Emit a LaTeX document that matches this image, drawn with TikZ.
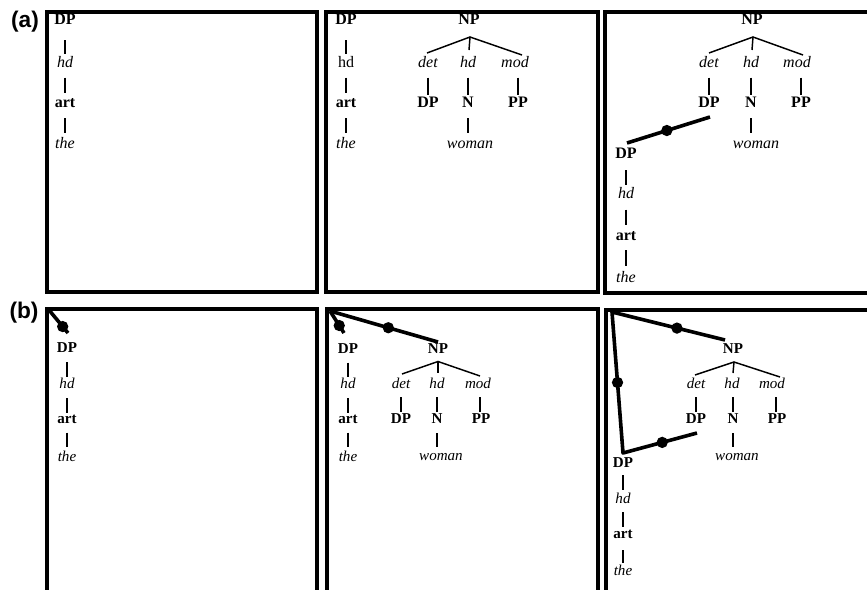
\documentclass[tikz,border=0pt]{standalone}
\usepackage{fontspec}
\setmainfont{Liberation Serif}
\newfontfamily\labfont{Liberation Sans}
\usetikzlibrary{calc}
\newcommand\tlink[4]{\draw[tl] ($(#1.base)+(0,#3)$) -- ($(#2.base)+(0,-#4)$);}
\begin{document}
\begin{tikzpicture}[x=0.75pt,y=-0.75pt,
  ca/.style={anchor=base,inner sep=0pt,font=\fontsize{12}{14}\selectfont\bfseries},
  fa/.style={anchor=base,inner sep=0pt,font=\fontsize{12}{14}\selectfont\itshape},
  ra/.style={anchor=base,inner sep=0pt,font=\fontsize{12}{14}\selectfont},
  cb/.style={anchor=base,inner sep=0pt,font=\fontsize{11.3}{13}\selectfont\bfseries},
  fb/.style={anchor=base,inner sep=0pt,font=\fontsize{11.3}{13}\selectfont\itshape},
  lab/.style={inner sep=0pt,font=\fontsize{17}{20}\selectfont\labfont\bfseries},
  frame/.style={line width=2.4pt},
  tl/.style={line width=1.1pt},
  thk/.style={line width=2.7pt,line join=round},
  dot/.style={circle,fill=black,inner sep=0pt,minimum size=8.5pt}]
\useasboundingbox (0,0) rectangle (867,589);
\clip (0,0) rectangle (867,589);
% labels
\node[lab] (la) at (25,22) {(a)};
\node[lab] (lb) at (24,313) {(b)};
% frames
\draw[frame] (47,12) rectangle (317,292);
\draw[frame] (326,12) rectangle (598,292);
\draw[frame] (605,12) rectangle (900,293);
\draw[frame] (47,309) rectangle (317,640);
\draw[frame] (327,309) rectangle (598,640);
\draw[frame] (606,310) rectangle (900,640);

% ---------- (a)1
\node[ca] (a1dp) at (65,24.5) {DP};
\node[fa] (a1hd) at (65,67) {hd};
\node[ca] (a1art) at (65,107) {art};
\node[fa] (a1the) at (65,148) {the};
\tlink{a1dp}{a1hd}{15.5}{13.5}
\tlink{a1hd}{a1art}{10.5}{14}
\tlink{a1art}{a1the}{11}{15}

% ---------- (a)2
\node[ca] (a2dp) at (346,24.5) {DP};
\node[ra] (a2hd) at (346,67) {hd};
\node[ca] (a2art) at (346,107) {art};
\node[fa] (a2the) at (346,148) {the};
\tlink{a2dp}{a2hd}{15.5}{13.5}
\tlink{a2hd}{a2art}{10.5}{14}
\tlink{a2art}{a2the}{11}{15}
\node[ca] (a2np) at (469,24.5) {NP};
\node[fa] (a2det) at (428,67) {det};
\node[fa] (a2nhd) at (468,67) {hd};
\node[fa] (a2mod) at (515,67) {mod};
\node[ca] (a2ndp) at (428,107) {DP};
\node[ca] (a2n) at (468,107) {N};
\node[ca] (a2pp) at (518,107) {PP};
\node[fa] (a2wom) at (470,148) {woman};
\coordinate (a2ap) at ($(a2np.base)+(1,12.5)$);
\draw[tl] ($(a2det.base)+(-1,-14)$) -- (a2ap) -- ($(a2mod.base)+(7,-12)$);
\draw[tl] (a2ap) -- ($(a2nhd.base)+(1,-17)$);
\draw[tl] ($(a2det.base)+(0,10.5)$) -- ($(a2ndp.base)+(0,-12)$);
\draw[tl] ($(a2nhd.base)+(0,10.5)$) -- ($(a2n.base)+(0,-12)$);
\draw[tl] ($(a2mod.base)+(3,10.5)$) -- ($(a2pp.base)+(0,-12)$);
\draw[tl] ($(a2n.base)+(0,11)$) -- ($(a2n.base |- a2wom.base)+(0,-15)$);

% ---------- (a)3
\node[ca] (a3np) at (752,24.5) {NP};
\node[fa] (a3det) at (709,67) {det};
\node[fa] (a3nhd) at (751,67) {hd};
\node[fa] (a3mod) at (797,67) {mod};
\node[ca] (a3ndp) at (709,107) {DP};
\node[ca] (a3n) at (751,107) {N};
\node[ca] (a3pp) at (801,107) {PP};
\node[fa] (a3wom) at (756,148) {woman};
\coordinate (a3ap) at ($(a3np.base)+(1,12.5)$);
\draw[tl] ($(a3det.base)+(0,-14)$) -- (a3ap) -- ($(a3mod.base)+(6,-12)$);
\draw[tl] (a3ap) -- ($(a3nhd.base)+(1,-17)$);
\draw[tl] ($(a3det.base)+(0,10.5)$) -- ($(a3ndp.base)+(0,-12)$);
\draw[tl] ($(a3nhd.base)+(0,10.5)$) -- ($(a3n.base)+(0,-12)$);
\draw[tl] ($(a3mod.base)+(4,10.5)$) -- ($(a3pp.base)+(0,-12)$);
\draw[tl] ($(a3n.base)+(0,11)$) -- ($(a3n.base |- a3wom.base)+(0,-15)$);
\node[ca] (a3dp) at (626,158) {DP};
\node[fa] (a3hd) at (626,198) {hd};
\node[ca] (a3art) at (626,240) {art};
\node[fa] (a3the) at (626,282) {the};
\tlink{a3dp}{a3hd}{12}{13.5}
\tlink{a3hd}{a3art}{11.5}{15}
\tlink{a3art}{a3the}{10}{16.5}
\draw[thk] ($(a3ndp.base)+(1,10)$) -- node[dot,pos=0.52] (a3dot) {} ($(a3dp.base)+(1,-15)$);

% ---------- (b)1
\coordinate (b1c) at (49,310);
\node[cb] (b1dp) at (67,352) {DP};
\node[fb] (b1hd) at (67,388) {hd};
\node[cb] (b1art) at (67,423) {art};
\node[fb] (b1the) at (67,461) {the};
\tlink{b1dp}{b1hd}{10}{11.5}
\tlink{b1hd}{b1art}{10}{10.5}
\tlink{b1art}{b1the}{9.5}{14}
\draw[thk] (b1c) -- node[dot,pos=0.72] (b1dot) {} ($(b1dp.base)+(1,-19)$);

% ---------- (b)2
\coordinate (b2c) at (330,311);
\node[cb] (b2dp) at (348,353) {DP};
\node[fb] (b2hd) at (348,388) {hd};
\node[cb] (b2art) at (348,423) {art};
\node[fb] (b2the) at (348,461) {the};
\tlink{b2dp}{b2hd}{9.5}{11.5}
\tlink{b2hd}{b2art}{10}{10.5}
\tlink{b2art}{b2the}{9.5}{14}
\node[cb] (b2np) at (438,353) {NP};
\node[fb] (b2det) at (401,388) {det};
\node[fb] (b2nhd) at (437,388) {hd};
\node[fb] (b2mod) at (478,388) {mod};
\node[cb] (b2ndp) at (401,423) {DP};
\node[cb] (b2n) at (437,423) {N};
\node[cb] (b2pp) at (481,423) {PP};
\node[fb] (b2wom) at (441,460) {woman};
\coordinate (b2ap) at ($(b2np.base)+(0,8.5)$);
\draw[tl] ($(b2det.base)+(1,-14)$) -- (b2ap) -- ($(b2mod.base)+(2,-12)$);
\draw[tl] (b2ap) -- ($(b2nhd.base)+(1,-15)$);
\draw[tl] ($(b2det.base)+(0,9)$) -- ($(b2ndp.base)+(0,-11)$);
\draw[tl] ($(b2nhd.base)+(0,9)$) -- ($(b2n.base)+(0,-11)$);
\draw[tl] ($(b2mod.base)+(2,9)$) -- ($(b2pp.base)+(-1,-11)$);
\draw[tl] ($(b2n.base)+(0,10)$) -- ($(b2n.base |- b2wom.base)+(0,-13)$);
\draw[thk] (b2c) -- node[dot,pos=0.66] (b2dot1) {} ($(b2dp.base)+(-4,-20)$);
\draw[thk] (b2c) -- node[dot,pos=0.54] (b2dot2) {} ($(b2np.base)+(0,-11)$);

% ---------- (b)3
\coordinate (b3c) at (612,312);
\node[cb] (b3np) at (733,353) {NP};
\node[fb] (b3det) at (696,388) {det};
\node[fb] (b3nhd) at (732,388) {hd};
\node[fb] (b3mod) at (772,388) {mod};
\node[cb] (b3ndp) at (696,423) {DP};
\node[cb] (b3n) at (733,423) {N};
\node[cb] (b3pp) at (777,423) {PP};
\node[fb] (b3wom) at (737,460) {woman};
\coordinate (b3ap) at ($(b3np.base)+(1,9)$);
\draw[tl] ($(b3det.base)+(-1,-13)$) -- (b3ap) -- ($(b3mod.base)+(8,-11)$);
\draw[tl] (b3ap) -- ($(b3nhd.base)+(1,-15)$);
\draw[tl] ($(b3det.base)+(0,9)$) -- ($(b3ndp.base)+(0,-11)$);
\draw[tl] ($(b3nhd.base)+(1,9)$) -- ($(b3n.base)+(0,-11)$);
\draw[tl] ($(b3mod.base)+(4,9)$) -- ($(b3pp.base)+(-1,-11)$);
\draw[tl] ($(b3n.base)+(0,10)$) -- ($(b3n.base |- b3wom.base)+(0,-13)$);
\node[cb] (b3dp) at (623,467) {DP};
\node[fb] (b3hd) at (623,503) {hd};
\node[cb] (b3art) at (623,538) {art};
\node[fb] (b3the) at (623,575) {the};
\tlink{b3dp}{b3hd}{8}{13}
\tlink{b3hd}{b3art}{9}{11}
\tlink{b3art}{b3the}{12}{12}
\draw[thk] ($(b3np.base)+(-8,-13)$) -- node[dot,pos=0.425] (b3dot1) {} (b3c)
  -- node[dot,pos=0.5] (b3dot2) {} ($(b3dp.base)+(0,-14)$)
  -- node[dot,pos=0.53] (b3dot3) {} ($(b3ndp.base)+(1,10)$);
\end{tikzpicture}
\end{document}
